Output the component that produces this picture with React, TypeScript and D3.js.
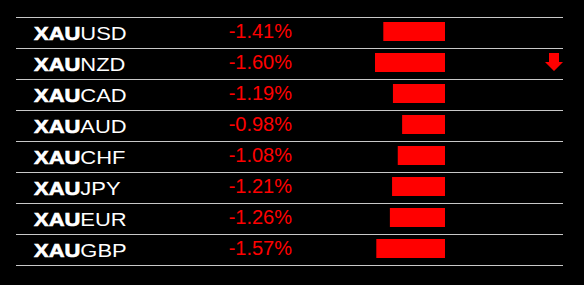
import React from "react";
import * as d3 from "d3";

const pairs: string[] = ["XAUUSD", "XAUNZD", "XAUCAD", "XAUAUD", "XAUCHF", "XAUJPY", "XAUEUR", "XAUGBP"];
const changes: number[] = [-1.41, -1.6, -1.19, -0.98, -1.08, -1.21, -1.26, -1.57];
const arrowPairs: string[] = ["XAUNZD"];

const W = 584;
const H = 285;

export default function App() {
  const y = d3.scaleBand<string>().domain(pairs).range([17, 265]).padding(0);
  const x = d3.scaleLinear().domain([0, 1.6]).range([0, 70]);
  const barRight = 445;
  const fmt = (v: number) => v.toFixed(2) + "%";
  const red = "#ff0000";
  const lineYs = [...pairs.map((p) => y(p) as number), 265];

  return (
    <svg
      width={W}
      height={H}
      style={{ position: "absolute", left: 0, top: 0, background: "#000" }}
      fontFamily="'Liberation Sans', Arial, sans-serif"
    >
      <rect x={0} y={0} width={W} height={H} fill="#000" />
      {lineYs.map((ly, i) => (
        <line key={"l" + i} x1={16} x2={563} y1={ly + 0.5} y2={ly + 0.5} stroke="#c8c8c8" strokeWidth={1} />
      ))}
      {pairs.map((p, i) => {
        const top = y(p) as number;
        const v = changes[i];
        const w = x(Math.abs(v));
        return (
          <g key={p}>
            <g transform={`translate(34,${top + 23}) scale(1.22,1)`}>
              <text fontSize={18} fill="#fff">
                <tspan fontWeight="bold" stroke="#fff" strokeWidth={0.6}>{p.slice(0, 3)}</tspan>
                <tspan>{p.slice(3)}</tspan>
              </text>
            </g>
            <text x={292} y={top + 20.5} fontSize={20} fill={red} textAnchor="end">
              {fmt(v)}
            </text>
            <rect x={barRight - w} y={top + 5} width={w} height={19} fill={red} />
            {arrowPairs.includes(p) && (
              <path
                d={`M549,${top + 5}H559V${top + 14}H563L554,${top + 23}L545,${top + 14}H549Z`}
                fill={red}
              />
            )}
          </g>
        );
      })}
    </svg>
  );
}
